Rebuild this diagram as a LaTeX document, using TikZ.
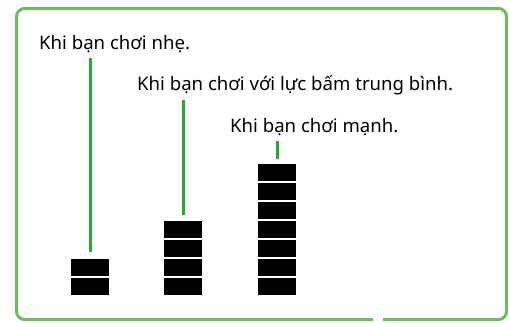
\documentclass[tikz,border=0pt]{standalone}
\usepackage{fontspec}
\setmainfont{Noto Sans}
\usetikzlibrary{calc}
\definecolor{khung}{HTML}{6DBB5E}
\definecolor{vach}{HTML}{2EA43A}

\begin{document}
\begin{tikzpicture}[x=1pt, y=-1pt,
  khoi/.style={fill=black, minimum width=38pt, minimum height=17pt, inner sep=0pt},
  vachxanh/.style={draw=vach, line width=3pt},
  nhan/.style={anchor=base west, inner sep=0pt, font=\fontsize{18.6}{22}\selectfont}]
  \useasboundingbox (0,0) rectangle (509,322);

  % khung ngoai, co mot khe nho o canh duoi
  \draw[khung, line width=3pt, rounded corners=8pt]
    (383,319.5) -- (506.5,319.5) -- (506.5,8.5) -- (16.5,8.5) -- (16.5,319.5) -- (373,319.5);

  % nhan
  \node[nhan] (n1) at (39,49) {Khi bạn chơi nhẹ.};
  \node[nhan] (n2) at (137,90) {Khi bạn chơi với lực bấm trung bình.};
  \node[nhan] (n3) at (230,132) {Khi bạn chơi mạnh.};

  % cac chong khoi
  \foreach \k in {1,2}
    \node[khoi] (a\k) at (90, {286.5-19*(\k-1)}) {};
  \foreach \k in {1,...,4}
    \node[khoi] (b\k) at (183, {286.5-19*(\k-1)}) {};
  \foreach \k in {1,...,7}
    \node[khoi] (c\k) at (277, {286.5-19*(\k-1)}) {};

  % vach xanh
  \draw[vachxanh] ([yshift=-9pt]n1.base -| a2.north) -- ([yshift=7pt]a2.north);
  \draw[vachxanh] ([yshift=-10pt]n2.base -| b4.north) -- ([yshift=6pt]b4.north);
  \draw[vachxanh] ([yshift=-9pt]n3.base -| c7.north) -- ([yshift=5pt]c7.north);
\end{tikzpicture}
\end{document}
